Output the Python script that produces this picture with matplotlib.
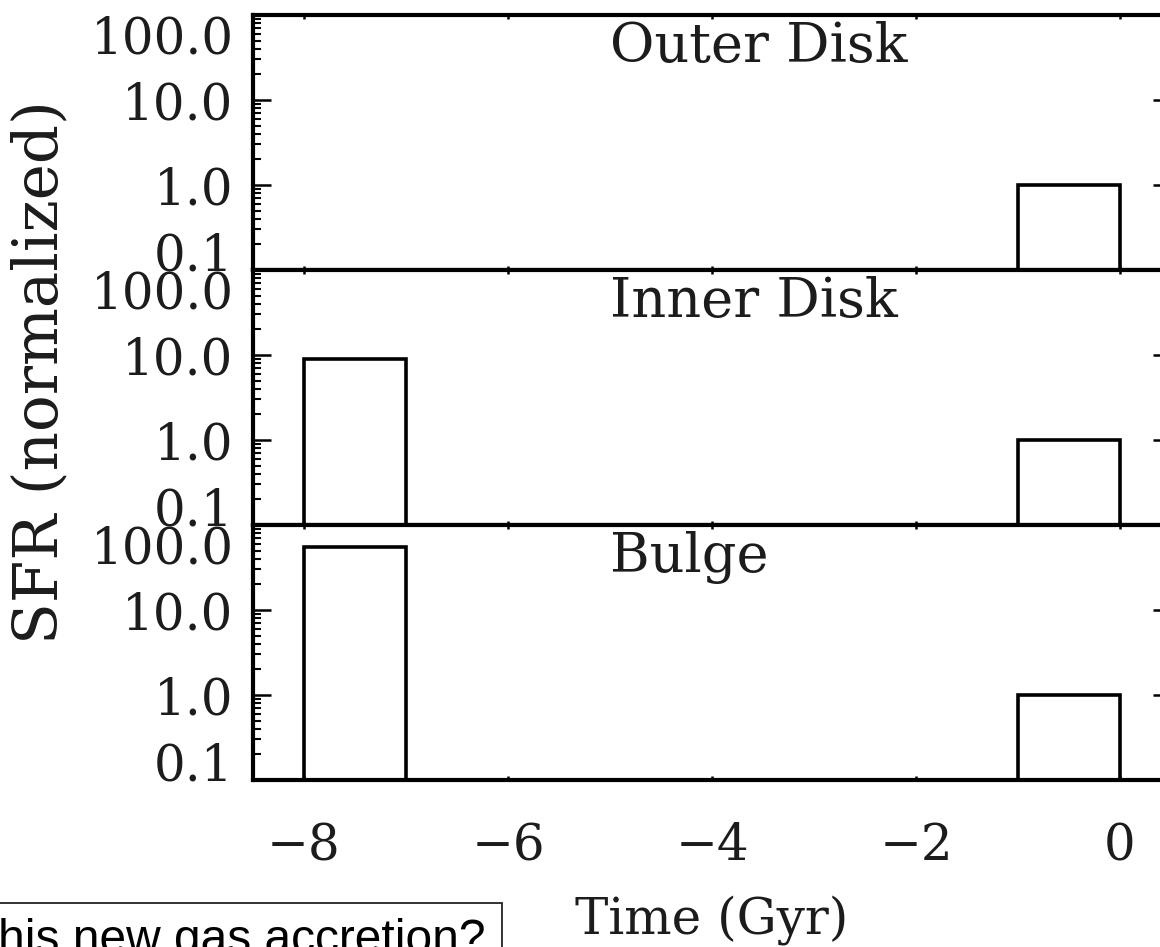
import matplotlib
matplotlib.use("Agg")
import matplotlib.pyplot as plt
from matplotlib.patches import Rectangle
from matplotlib.ticker import LogLocator, NullFormatter

# star formation history per component: bin left edges (Gyr) and normalized SFR
panel_names = ["Outer Disk", "Inner Disk", "Bulge"]
bin_left = [
    [-1.0],
    [-8.0, -1.0],
    [-8.0, -1.0],
]
sfr_values = [
    [1.0],
    [9.0, 1.0],
    [55.0, 1.0],
]
bin_width = 1.0

y_ticks = [0.1, 1.0, 10.0, 100.0]
y_ticklabels = ["0.1", "1.0", "10.0", "100.0"]
x_ticks = [-8, -6, -4, -2, 0]
x_ticklabels = ["\u22128", "\u22126", "\u22124", "\u22122", "0"]

plt.rcParams["font.family"] = "DejaVu Serif"
text_col = "#1c1c1c"

fig = plt.figure(figsize=(11.6, 9.47), dpi=100)

left, right_edge = 253 / 1160, 1171 / 1160
top_px, bot_px = 15, 780
panel_h = (bot_px - top_px) / 3 / 947

axes = []
for i, name in enumerate(panel_names):
    y0 = 1 - (top_px / 947) - (i + 1) * panel_h
    ax = fig.add_axes([left, y0, right_edge - left, panel_h])
    axes.append(ax)

    base = 1e-3
    ax.bar(bin_left[i], [v - base for v in sfr_values[i]], width=bin_width,
           bottom=base, align="edge", fill=False, edgecolor="black",
           linewidth=2.6)

    ax.set_yscale("log")
    ax.set_ylim(0.1, 100)
    ax.set_xlim(-8.5, 0.5)

    ax.set_yticks(y_ticks)
    ax.set_yticklabels(y_ticklabels)
    ax.yaxis.set_minor_locator(LogLocator(base=10, subs=range(2, 10)))
    ax.yaxis.set_minor_formatter(NullFormatter())
    ax.tick_params(axis="y", which="major", direction="in", length=13,
                   width=1.8, left=True, right=True, labelsize=36, pad=14,
                   labelcolor=text_col)
    ax.tick_params(axis="y", which="minor", direction="in", length=6,
                   width=1.5, left=True, right=True)

    ax.set_xticks(x_ticks)
    ax.set_xticklabels(x_ticklabels)
    ax.tick_params(axis="x", which="major", direction="in", length=3,
                   width=1.8, top=True, bottom=True, labelsize=36, pad=30,
                   labelbottom=(i == 2), labelcolor=text_col)

    # end labels sit inside the panel height
    labels = ax.get_yticklabels()
    labels[0].set_verticalalignment("baseline")
    labels[-1].set_verticalalignment("top")

    for sp in ax.spines.values():
        sp.set_linewidth(3.0)

    ax.text(-5.0, 0.976, name, transform=ax.get_xaxis_transform(),
            ha="left", va="top", fontsize=39, color=text_col)

fig.text(40 / 1160, 1 - 372 / 947, "SFR (normalized)", rotation=90,
         ha="center", va="center", fontsize=44, color=text_col)
fig.text(712 / 1160, 1 - 933 / 947, "Time (Gyr)", ha="center",
         va="baseline", fontsize=36, color=text_col)

# caption box in the lower-left corner
fig.patches.append(Rectangle((-0.02, -0.1), 502 / 1160 + 0.02, 0.1 + 1 - 903 / 947,
                             transform=fig.transFigure, fill=False,
                             edgecolor="#222222", linewidth=1.3))
fig.text(-0.002, 1 - 953 / 947, "his new gas accretion?", ha="left",
         va="baseline", fontsize=34.5, family="Liberation Sans")

fig.savefig("out.png", dpi=100, facecolor="white")
